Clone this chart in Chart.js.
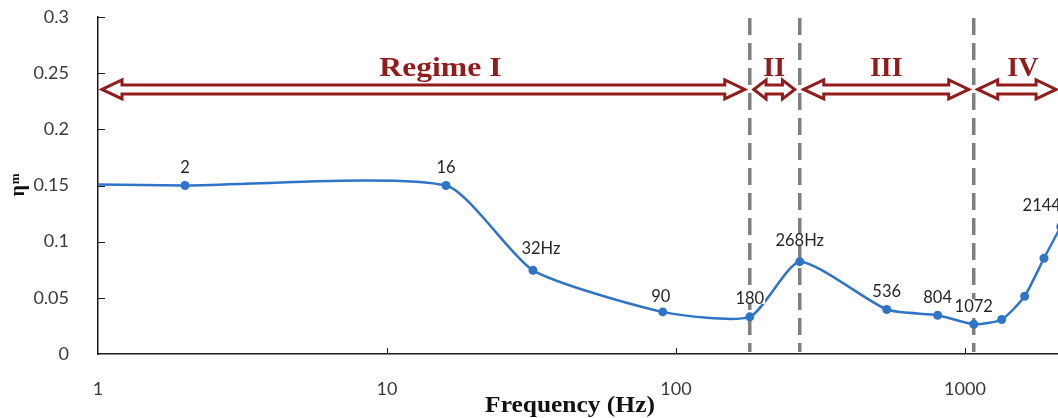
<!DOCTYPE html>
<html>
<head>
<meta charset="utf-8">
<script src="https://cdn.jsdelivr.net/npm/chart.js@4/dist/chart.umd.min.js"></script>
<style>
  html, body { margin: 0; padding: 0; background: #fff; overflow: hidden; width: 1058px; height: 418px; }
  #wrap { width: 1058px; height: 418px; overflow: hidden; position: relative; }
  canvas { display: block; }
</style>
</head>
<body>
<div id="wrap"><canvas id="c" width="1300" height="418"></canvas></div>
<script>
// Measured loss factor against excitation frequency
const frequencies = [1, 2, 16, 32, 90, 180, 268, 536, 804, 1072, 1340, 1608, 1876, 2144];
const etaM        = [0.151, 0.150, 0.150, 0.0745, 0.0375, 0.0331, 0.0822, 0.0396, 0.0345, 0.0265, 0.0307, 0.0514, 0.0852, 0.1133];
const pointLabels = ['', '2', '16', '32Hz', '90', '180', '268Hz', '536', '804', '1072', '', '', '', '2144'];

// Axis ticks
const xTickValues = [1, 10, 100, 1000, 10000];
const xTickLabels = ['1', '10', '100', '1000', '10000'];
const yTickValues = [0, 0.05, 0.1, 0.15, 0.2, 0.25, 0.3];
const yTickLabels = ['0', '0.05', '0.1', '0.15', '0.2', '0.25', '0.3'];

// Regimes: names and the frequency limits of each band
const regimeNames  = ['Regime I', 'II', 'III', 'IV'];
const regimeBounds = [1, 180, 268, 1072, 2150];
const dividerFreqs = [180, 268, 1072];

const LINE_BLUE = '#2f74c7';
const DARK_RED  = '#921b1b';
const AXIS_INK  = '#1a1a1a';
const TICK_INK  = '#3a3a3a';

function blockArrow(ctx, x0, x1, cy, headLen, headHalf, shaftHalf) {
  ctx.beginPath();
  ctx.moveTo(x0, cy);
  ctx.lineTo(x0 + headLen, cy - headHalf);
  ctx.lineTo(x0 + headLen, cy - shaftHalf);
  ctx.lineTo(x1 - headLen, cy - shaftHalf);
  ctx.lineTo(x1 - headLen, cy - headHalf);
  ctx.lineTo(x1, cy);
  ctx.lineTo(x1 - headLen, cy + headHalf);
  ctx.lineTo(x1 - headLen, cy + shaftHalf);
  ctx.lineTo(x0 + headLen, cy + shaftHalf);
  ctx.lineTo(x0 + headLen, cy + headHalf);
  ctx.closePath();
  ctx.fillStyle = '#fff';
  ctx.fill();
  ctx.lineJoin = 'miter';
  ctx.lineWidth = 3;
  ctx.strokeStyle = DARK_RED;
  ctx.stroke();
}

// nudges for individual value labels (dx, dy in px)
const labelNudge = { '32Hz': [8, -4], '268Hz': [0, -3], '90': [-2, 3], '2144': [-19, -3] };
// horizontal nudges for regime names
const regimeNudge = [17, 0, 0, 6];

const decor = {
  id: 'decor',
  beforeDatasetsDraw(chart) {
    const { ctx, scales: { x, y } } = chart;
    ctx.save();
    ctx.strokeStyle = '#7f7f7f';
    ctx.lineWidth = 3.5;
    ctx.setLineDash([17, 8]);
    dividerFreqs.forEach(f => {
      const px = x.getPixelForValue(f);
      ctx.beginPath();
      ctx.moveTo(px, y.getPixelForValue(0.3) + 1);
      ctx.lineTo(px, y.getPixelForValue(0) - 2);
      ctx.stroke();
    });
    ctx.restore();
  },
  afterDatasetsDraw(chart) {
    const { ctx } = chart;
    const meta = chart.getDatasetMeta(0);
    ctx.save();
    ctx.font = '16.5px Lato';
    ctx.textAlign = 'center';
    ctx.textBaseline = 'middle';
    pointLabels.forEach((txt, i) => {
      if (!txt) return;
      const el = meta.data[i];
      const n = labelNudge[txt] || [0, 0];
      const cx = el.x + n[0];
      const cy = el.y - 19 + n[1];
      const w = ctx.measureText(txt).width;
      ctx.fillStyle = '#fff';
      ctx.fillRect(cx - w / 2 - 1, cy - 6, w + 2, 12);
      ctx.fillStyle = '#262626';
      ctx.fillText(txt, cx, cy + 1);
    });
    ctx.restore();
  },
  afterDraw(chart) {
    const { ctx, chartArea, scales: { x, y } } = chart;
    ctx.save();
    // inward tick marks
    ctx.strokeStyle = AXIS_INK;
    ctx.lineWidth = 1;
    xTickValues.slice(1).forEach(v => {
      const px = Math.round(x.getPixelForValue(v)) + 0.5;
      ctx.beginPath();
      ctx.moveTo(px, chartArea.bottom);
      ctx.lineTo(px, chartArea.bottom - 6);
      ctx.stroke();
    });
    yTickValues.slice(1).forEach(v => {
      const py = Math.round(y.getPixelForValue(v)) + 0.5;
      ctx.beginPath();
      ctx.moveTo(chartArea.left, py);
      ctx.lineTo(chartArea.left + 7, py);
      ctx.stroke();
    });

    // regime arrows and names
    const arrowY = y.getPixelForValue(0.2355);
    const nameY = y.getPixelForValue(0.2475);
    for (let i = 0; i < regimeNames.length; i++) {
      const xa = x.getPixelForValue(regimeBounds[i]) + 4;
      const xb = x.getPixelForValue(regimeBounds[i + 1]) - 5;
      const head = Math.min(20, (xb - xa) * 0.3);
      blockArrow(ctx, xa, xb, arrowY, head, 9.5, 4.5);
      const mid = (xa + xb) / 2 + regimeNudge[i];
      ctx.save();
      ctx.translate(mid, nameY);
      if (i === 0) ctx.scale(1.13, 1);
      ctx.font = 'bold 28px "Liberation Serif"';
      ctx.fillStyle = DARK_RED;
      ctx.textAlign = 'center';
      ctx.textBaseline = 'alphabetic';
      ctx.fillText(regimeNames[i], 0, 0);
      ctx.restore();
    }

    // x axis title
    ctx.save();
    ctx.translate(chartArea.left + 472, 411.5);
    ctx.scale(1.06, 1);
    ctx.font = 'bold 24px "Liberation Serif"';
    ctx.fillStyle = '#111';
    ctx.textAlign = 'center';
    ctx.textBaseline = 'alphabetic';
    ctx.fillText('Frequency (Hz)', 0, 0);
    ctx.restore();

    // y axis title: eta with superscript m
    ctx.save();
    ctx.translate(24, (chartArea.top + chartArea.bottom) / 2 + 11);
    ctx.rotate(-Math.PI / 2);
    ctx.fillStyle = '#111';
    ctx.textAlign = 'left';
    ctx.textBaseline = 'alphabetic';
    ctx.font = 'bold 20px "Liberation Serif"';
    ctx.fillText('\u03b7', 0, 0);
    const etaW = ctx.measureText('\u03b7').width;
    ctx.font = 'bold 13px "Liberation Serif"';
    ctx.fillText('m', etaW + 1, -5);
    ctx.restore();

    ctx.restore();
  }
};

const chart = new Chart(document.getElementById('c'), {
  type: 'line',
  data: {
    datasets: [{
      data: frequencies.map((f, i) => ({ x: f, y: etaM[i] })),
      borderColor: LINE_BLUE,
      backgroundColor: LINE_BLUE,
      borderWidth: 2.5,
      pointRadius: frequencies.map((f, i) => (i === 0 ? 0 : 4.5)),
      pointBackgroundColor: LINE_BLUE,
      pointBorderColor: LINE_BLUE,
      pointBorderWidth: 0,
      tension: 0.2,
      fill: false
    }]
  },
  options: {
    responsive: false,
    animation: false,
    devicePixelRatio: 1,
    layout: { padding: { top: 17, right: 46, left: 0, bottom: 0 } },
    plugins: {
      legend: { display: false },
      tooltip: { enabled: false },
      title: { display: false }
    },
    scales: {
      x: {
        type: 'logarithmic',
        min: 1,
        max: 10000,
        grid: { display: false },
        border: { display: true, color: AXIS_INK, width: 1.5 },
        afterBuildTicks: s => { s.ticks = xTickValues.map(v => ({ value: v })); },
        afterFit: s => { s.height = 64; },
        ticks: {
          callback: (v, i) => xTickLabels[i],
          font: { family: 'Lato', size: 18 },
          color: TICK_INK,
          padding: 16,
          maxRotation: 0,
          autoSkip: false
        }
      },
      y: {
        type: 'linear',
        min: 0,
        max: 0.3,
        grid: { display: false },
        border: { display: true, color: AXIS_INK, width: 1.5 },
        afterBuildTicks: s => { s.ticks = yTickValues.map(v => ({ value: v })); },
        afterFit: s => { s.width = 98; s.paddingTop = 0; s.paddingBottom = 0; },
        ticks: {
          callback: (v, i) => yTickLabels[i],
          font: { family: 'Lato', size: 18 },
          color: TICK_INK,
          padding: 21
        }
      }
    }
  },
  plugins: [decor]
});
</script>
</body>
</html>
